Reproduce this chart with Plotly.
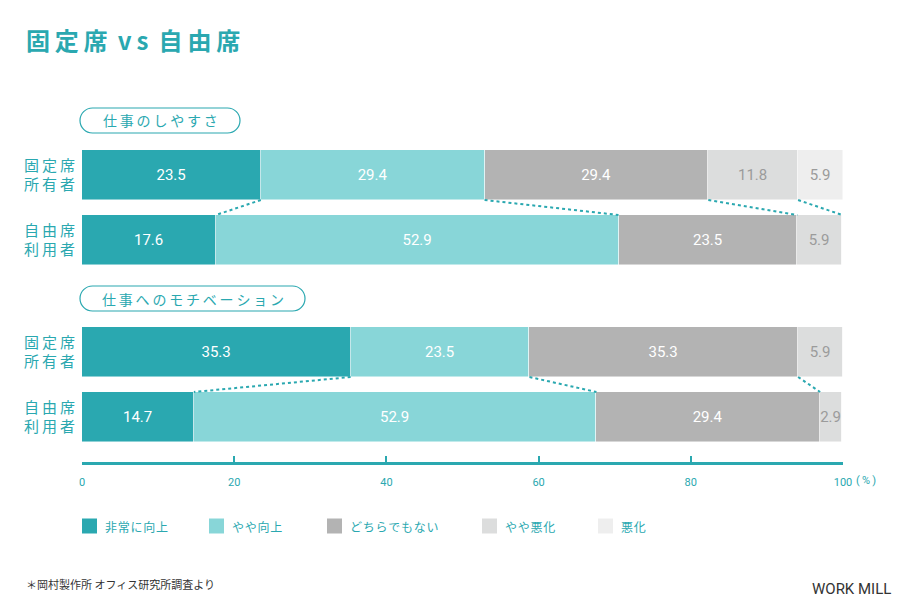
import plotly.graph_objects as go

# ---------------- data ----------------
categories = ["非常に向上", "やや向上", "どちらでもない", "やや悪化", "悪化"]
sections = ["仕事のしやすさ", "仕事へのモチベーション"]
groups = ["固定席所有者", "自由席利用者"]
group_labels = ["固\u2009定\u2009席<br>所\u2009有\u2009者", "自\u2009由\u2009席<br>利\u2009用\u2009者"]

work_fixed = [23.5, 29.4, 29.4, 11.8, 5.9]
work_free = [17.6, 52.9, 23.5, 5.9, 0.0]
motiv_fixed = [35.3, 23.5, 35.3, 5.9, 0.0]
motiv_free = [14.7, 52.9, 29.4, 2.9, 0.0]

x_ticks = [0, 20, 40, 60, 80, 100]
x_tick_labels = ["0", "20", "40", "60", "80", "100"]

# ---------------- style ----------------
TEAL = "#2aa8b0"
colors = ["#2aa8b0", "#88d6d8", "#b3b3b3", "#dcdddd", "#eeeeee"]
text_colors = ["#ffffff", "#ffffff", "#ffffff", "#9b9b9b", "#9b9b9b"]
JP = "Noto Sans CJK JP, Noto Sans, sans-serif"
NUM = "Roboto, DejaVu Sans, sans-serif"
NARROW = "Liberation Sans Narrow, Roboto, sans-serif"

W, H = 900, 600
L, R = 82, 57
PW = W - L - R

# bar centre rows (y axis is in pixel units, top = 0)
rows = [175, 240, 352, 417]
BAR_H = 50
row_values = [work_fixed, work_free, motiv_fixed, motiv_free]


def px2paper_x(px):
    return (px - L) / PW


def px2paper_y(py):
    return 1 - py / H


fig = go.Figure()

for ci, cat in enumerate(categories):
    xs = [vals[ci] for vals in row_values]
    fig.add_trace(go.Bar(
        orientation="h",
        y=rows,
        x=xs,
        width=BAR_H,
        name=cat,
        marker=dict(color=colors[ci], line=dict(color="rgba(255,255,255,0.6)", width=0.8)),
        text=[("%.1f" % v) if v > 0 else "" for v in xs],
        textposition="inside",
        insidetextanchor="middle",
        textangle=0,
        constraintext="none",
        textfont=dict(family=NUM, size=15, color=text_colors[ci]),
        showlegend=False,
        hoverinfo="skip",
    ))

# dotted connectors between cumulative boundaries
def cumsum(v):
    out, s = [], 0.0
    for a in v:
        s = round(s + a, 1)
        out.append(s)
    return out

for top_i, bot_i in [(0, 1), (2, 3)]:
    ct = cumsum(row_values[top_i])
    cb = cumsum(row_values[bot_i])
    for k in range(len(categories) - 1):
        if ct[k] >= 99.95:
            continue
        fig.add_trace(go.Scatter(
            x=[ct[k], cb[k]],
            y=[rows[top_i] + BAR_H / 2, rows[bot_i] - BAR_H / 2],
            mode="lines",
            line=dict(color=TEAL, width=2, dash="dot"),
            showlegend=False,
            hoverinfo="skip",
        ))

annotations = []
shapes = []

# title
annotations.append(dict(
    xref="paper", yref="paper", x=px2paper_x(24), y=px2paper_y(40),
    xanchor="left", yanchor="middle", showarrow=False,
    text="<b>固\u2009定\u2009席\u2009 v\u2009s \u2009自\u2009由\u2009席</b>",
    font=dict(family=JP, size=24, color=TEAL),
))

# section pills
pill_specs = [(sections[0], 80, 240, 120.5), (sections[1], 80, 305, 298.5)]
for text, x0, x1, yc in pill_specs:
    r = 12.5
    y0, y1 = yc - r, yc + r
    k = 0.5523 * r
    def P(px, py):
        return "%.5f,%.5f" % (px2paper_x(px), px2paper_y(py))
    path = (
        "M" + P(x0 + r, y0) + " L" + P(x1 - r, y0)
        + " C" + P(x1 - r + k, y0) + " " + P(x1, yc - k) + " " + P(x1, yc)
        + " C" + P(x1, yc + k) + " " + P(x1 - r + k, y1) + " " + P(x1 - r, y1)
        + " L" + P(x0 + r, y1)
        + " C" + P(x0 + r - k, y1) + " " + P(x0, yc + k) + " " + P(x0, yc)
        + " C" + P(x0, yc - k) + " " + P(x0 + r - k, y0) + " " + P(x0 + r, y0) + " Z"
    )
    shapes.append(dict(type="path", xref="paper", yref="paper", path=path,
                       line=dict(color=TEAL, width=1.2), fillcolor="rgba(0,0,0,0)"))
    annotations.append(dict(
        xref="paper", yref="paper", x=px2paper_x((x0 + x1) / 2), y=px2paper_y(yc),
        xanchor="center", yanchor="middle", showarrow=False,
        text="\u2009".join(list(text)),
        font=dict(family=JP, size=14, color=TEAL),
    ))

# percent unit next to 100
annotations.append(dict(
    xref="paper", yref="paper", x=px2paper_x(854), y=px2paper_y(480),
    xanchor="left", yanchor="middle", showarrow=False,
    text="(\u2009%\u2009)", font=dict(family=NARROW, size=11, color=TEAL),
))

# custom legend
legend_sq_x = [82, 209, 327, 482, 598]
LEG_Y = 526
for ci, cat in enumerate(categories):
    sx = legend_sq_x[ci]
    shapes.append(dict(type="rect", xref="paper", yref="paper",
                       x0=px2paper_x(sx), x1=px2paper_x(sx + 15),
                       y0=px2paper_y(LEG_Y - 7.5), y1=px2paper_y(LEG_Y + 7.5),
                       fillcolor=colors[ci], line=dict(width=0)))
    annotations.append(dict(
        xref="paper", yref="paper", x=px2paper_x(sx + 21), y=px2paper_y(LEG_Y),
        xanchor="left", yanchor="middle", showarrow=False,
        text="\u200a".join(list(cat)),
        font=dict(family=JP, size=12, color=TEAL),
    ))

# footnote and brand
annotations.append(dict(
    xref="paper", yref="paper", x=px2paper_x(24), y=px2paper_y(584),
    xanchor="left", yanchor="middle", showarrow=False,
    text="＊岡村製作所 オフィス研究所調査より",
    font=dict(family=JP, size=11, color="#333333"),
))
annotations.append(dict(
    xref="paper", yref="paper", x=px2paper_x(893), y=px2paper_y(589),
    xanchor="right", yanchor="middle", showarrow=False,
    text="WORK MILL",
    font=dict(family=NARROW, size=15, color="#333333"),
))

fig.update_layout(
    width=W, height=H,
    margin=dict(l=L, r=R, t=0, b=0),
    paper_bgcolor="white", plot_bgcolor="white",
    barmode="stack",
    bargap=0,
    showlegend=False,
    annotations=annotations,
    shapes=shapes,
    xaxis=dict(
        range=[0, 100],
        anchor="free", position=px2paper_y(463),
        tickvals=x_ticks, ticktext=x_tick_labels,
        ticks="inside", ticklen=6, tickwidth=2, tickcolor=TEAL,
        showline=True, linecolor=TEAL, linewidth=3,
        showgrid=False, zeroline=False,
        tickfont=dict(family=NARROW, size=11, color=TEAL),
        ticklabelstandoff=8,
        fixedrange=True,
    ),
    yaxis=dict(
        range=[H, 0],
        tickvals=rows, ticktext=group_labels * 2,
        ticks="", showline=False, showgrid=False, zeroline=False,
        tickfont=dict(family=JP, size=15, color=TEAL),
        ticklabelstandoff=6,
        fixedrange=True,
    ),
)

fig.write_html(
    "out.html",
    config={"displayModeBar": False},
    post_script="document.body.style.margin='0';document.body.style.padding='0';",
)
